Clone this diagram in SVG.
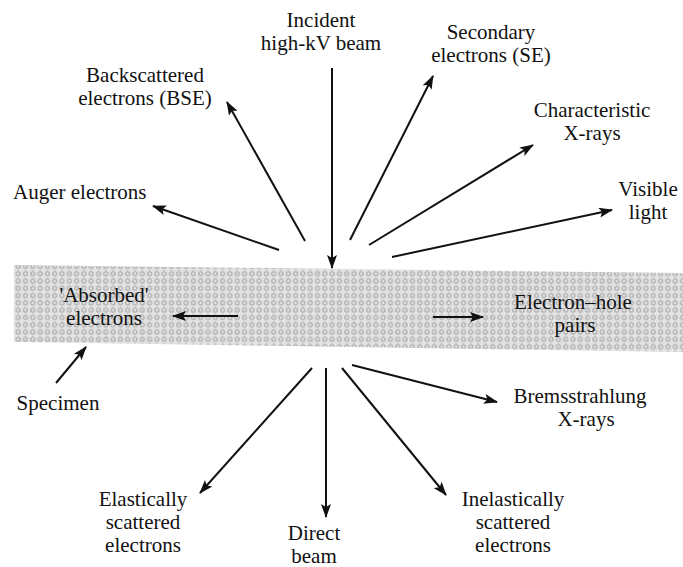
<svg xmlns="http://www.w3.org/2000/svg" width="683" height="567" viewBox="0 0 683 567">
<style>
  text { font-family: "Liberation Serif", Tinos, "Times New Roman", Times, "Noto Serif", "DejaVu Serif", FreeSerif, serif; font-size: 21px; fill: #111; }
  .c { text-anchor: middle; }
  .arrow { stroke: #111; stroke-width: 2; fill: none; marker-end: url(#ah); }
</style>
<defs>
  <marker id="ah" markerUnits="userSpaceOnUse" markerWidth="14" markerHeight="10" refX="13" refY="5" orient="auto">
    <path d="M0,0 L14,5 L0,10 L3,5 Z" fill="#111"/>
  </marker>
  <pattern id="grain" patternUnits="userSpaceOnUse" width="7.3" height="7.3">
    <rect width="7.3" height="7.3" fill="#e2e2e2"/>
    <circle cx="3.6" cy="3.6" r="2" fill="none" stroke="#a9a9a9" stroke-width="1.1"/>
    <rect x="3" y="0" width="1.2" height="1.2" fill="#bdbdbd"/>
  </pattern>
</defs>

<g id="specimen">
  <polygon points="14,265 683,273 683,352 14,342" fill="url(#grain)"/>
</g>

<g id="connectors">
  <line class="arrow" x1="332" y1="68" x2="332" y2="268"/>
  <line class="arrow" x1="305" y1="241" x2="227" y2="102"/>
  <line class="arrow" x1="279" y1="250" x2="153" y2="206"/>
  <line class="arrow" x1="350" y1="240" x2="433" y2="76"/>
  <line class="arrow" x1="369" y1="245" x2="533" y2="145"/>
  <line class="arrow" x1="392" y1="257" x2="612" y2="210"/>
  <line class="arrow" x1="238" y1="316" x2="173" y2="316"/>
  <line class="arrow" x1="433" y1="317" x2="483" y2="317"/>
  <line class="arrow" x1="56" y1="383" x2="86" y2="347"/>
  <line class="arrow" x1="312" y1="368" x2="200" y2="493"/>
  <line class="arrow" x1="326" y1="368" x2="326" y2="517"/>
  <line class="arrow" x1="342" y1="368" x2="446" y2="495"/>
  <line class="arrow" x1="352" y1="365" x2="497" y2="402"/>
</g>

<g id="incident"><text class="c" x="321" y="27">Incident</text><text class="c" x="321" y="50">high-kV beam</text></g>
<g id="bse"><text class="c" x="145" y="82">Backscattered</text><text class="c" x="145" y="105">electrons (BSE)</text></g>
<g id="auger"><text x="13" y="199">Auger electrons</text></g>
<g id="se"><text class="c" x="491" y="39">Secondary</text><text class="c" x="491" y="62">electrons (SE)</text></g>
<g id="char-xrays"><text class="c" x="592" y="117">Characteristic</text><text class="c" x="592" y="140">X-rays</text></g>
<g id="visible"><text class="c" x="648" y="196">Visible</text><text class="c" x="648" y="219">light</text></g>
<g id="absorbed"><text class="c" x="104" y="302">'Absorbed'</text><text class="c" x="104" y="325">electrons</text></g>
<g id="ehpairs"><text class="c" x="573" y="309">Electron–hole</text><text class="c" x="575" y="332">pairs</text></g>
<g id="specimen-label"><text class="c" x="58" y="410">Specimen</text></g>
<g id="brems"><text class="c" x="580" y="403">Bremsstrahlung</text><text class="c" x="586" y="426">X-rays</text></g>
<g id="elastic"><text class="c" x="143" y="506">Elastically</text><text class="c" x="143" y="529">scattered</text><text class="c" x="143" y="552">electrons</text></g>
<g id="direct"><text class="c" x="314" y="540">Direct</text><text class="c" x="314" y="563">beam</text></g>
<g id="inelastic"><text class="c" x="513" y="506">Inelastically</text><text class="c" x="513" y="529">scattered</text><text class="c" x="513" y="552">electrons</text></g>
</svg>
